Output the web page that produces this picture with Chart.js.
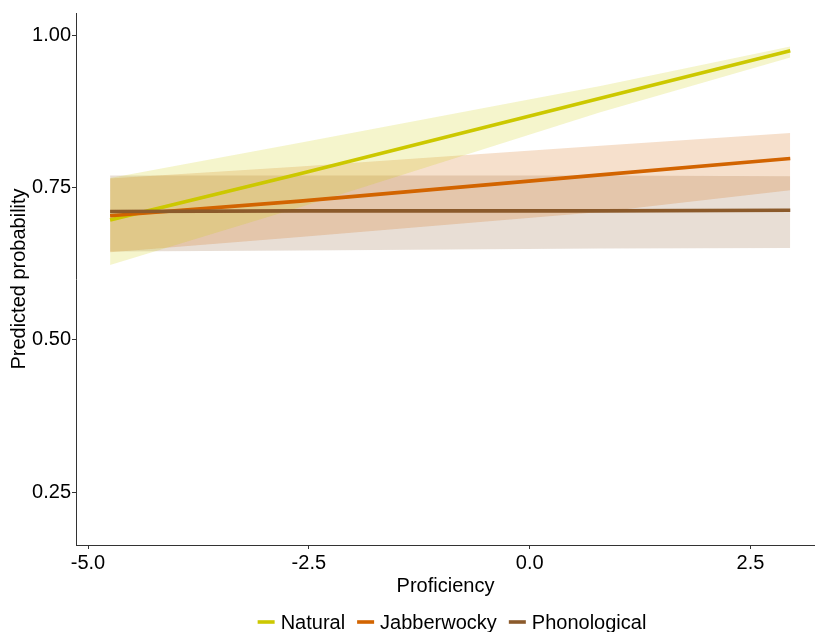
<!DOCTYPE html>
<html>
<head>
<meta charset="utf-8">
<script src="https://cdn.jsdelivr.net/npm/chart.js@4.4.0/dist/chart.umd.min.js"></script>
<style>
  html, body { margin: 0; padding: 0; background: #ffffff; }
  #wrap { width: 815px; height: 632px; }
</style>
</head>
<body>
<div id="wrap"><canvas id="chart" width="815" height="632"></canvas></div>
<script>
// Proficiency values at which the fitted curves and their bands are given
const proficiency = [-4.75, -2.6, 0.8, 2.95];

// Natural
const naturalFit  = [0.697, 0.773, 0.897, 0.975];
const naturalLow  = [0.623, 0.718, 0.874, 0.964];
const naturalHigh = [0.766, 0.824, 0.917, 0.982];

// Jabberwocky
const jabberFit  = [0.704, 0.728, 0.771, 0.798];
const jabberLow  = [0.644, 0.669, 0.710, 0.746];
const jabberHigh = [0.765, 0.785, 0.819, 0.840];

// Phonological
const phonFit  = [0.711, 0.712, 0.712, 0.713];
const phonLow  = [0.645, 0.647, 0.650, 0.651];
const phonHigh = [0.770, 0.770, 0.770, 0.769];

const seriesNames = ['Natural', 'Jabberwocky', 'Phonological'];

const xTicks = [-5.0, -2.5, 0.0, 2.5];
const xTickLabels = ['-5.0', '-2.5', '0.0', '2.5'];
const yTicks = [0.25, 0.50, 0.75, 1.00];
const yTickLabels = ['0.25', '0.50', '0.75', '1.00'];

const lineColors = ['rgb(204,200,0)', 'rgb(210,100,0)', 'rgb(139,90,43)'];
const bandColors = ['rgba(204,204,0,0.2)', 'rgba(210,100,0,0.2)', 'rgba(139,90,43,0.2)'];

const FONT = "'Liberation Sans', Arial, sans-serif";

function toPoints(ys) {
  return proficiency.map((x, i) => ({ x: x, y: ys[i] }));
}

const fits  = [naturalFit, jabberFit, phonFit];
const lows  = [naturalLow, jabberLow, phonLow];
const highs = [naturalHigh, jabberHigh, phonHigh];

const datasets = [];
seriesNames.forEach((name, i) => {
  // confidence band: upper edge filled down to the lower edge (next dataset)
  datasets.push({
    label: name + ' upper',
    data: toPoints(highs[i]),
    fill: '+1',
    backgroundColor: bandColors[i],
    borderWidth: 0,
    pointRadius: 0,
    order: 10
  });
  datasets.push({
    label: name + ' lower',
    data: toPoints(lows[i]),
    fill: false,
    borderWidth: 0,
    pointRadius: 0,
    order: 10
  });
});
seriesNames.forEach((name, i) => {
  datasets.push({
    label: name,
    data: toPoints(fits[i]),
    fill: false,
    borderColor: lineColors[i],
    borderWidth: 3.6,
    pointRadius: 0,
    borderCapStyle: 'butt',
    order: 3 - i
  });
});

// Legend row underneath the axis title
const bottomLegend = {
  id: 'bottomLegend',
  afterDraw(chart) {
    const ctx = chart.ctx;
    ctx.save();
    ctx.font = '20px ' + FONT;
    ctx.textBaseline = 'middle';
    ctx.textAlign = 'left';
    const keyW = 17, keyGap = 6, itemGap = 12;
    const widths = seriesNames.map(n => ctx.measureText(n).width);
    let total = 0;
    widths.forEach((w, i) => { total += keyW + keyGap + w + (i < widths.length - 1 ? itemGap : 0); });
    let x = 452 - total / 2;
    const y = 622;
    seriesNames.forEach((n, i) => {
      ctx.strokeStyle = lineColors[i];
      ctx.lineWidth = 3.6;
      ctx.beginPath();
      ctx.moveTo(x, y);
      ctx.lineTo(x + keyW, y);
      ctx.stroke();
      x += keyW + keyGap;
      ctx.fillStyle = '#000000';
      ctx.fillText(n, x, y + 1);
      x += widths[i] + itemGap;
    });
    ctx.restore();
  }
};

new Chart(document.getElementById('chart'), {
  type: 'line',
  data: { datasets: datasets },
  plugins: [bottomLegend],
  options: {
    responsive: false,
    animation: false,
    devicePixelRatio: 1,
    layout: { padding: { left: 0, right: 0, top: 13, bottom: 32 } },
    plugins: {
      legend: { display: false },
      tooltip: { enabled: false },
      filler: { drawTime: 'beforeDatasetsDraw' }
    },
    scales: {
      x: {
        type: 'linear',
        min: -5.136,
        max: 3.23,
        afterFit(scale) { scale.height = 55; },
        afterBuildTicks(scale) { scale.ticks = xTicks.map(v => ({ value: v })); },
        ticks: {
          autoSkip: false,
          maxRotation: 0,
          padding: 2,
          color: '#000000',
          font: { family: FONT, size: 20 },
          callback(value) {
            const k = xTicks.indexOf(value);
            return k >= 0 ? xTickLabels[k] : '';
          }
        },
        grid: { display: true, drawOnChartArea: false, drawTicks: true, tickLength: 4, color: '#333333' },
        border: { display: true, color: '#333333', width: 1 },
        title: {
          display: true,
          text: 'Proficiency',
          color: '#000000',
          font: { family: FONT, size: 20 },
          padding: { top: 0, bottom: 2 }
        }
      },
      y: {
        type: 'linear',
        min: 0.163,
        max: 1.037,
        afterFit(scale) { scale.width = 76; },
        afterBuildTicks(scale) { scale.ticks = yTicks.map(v => ({ value: v })); },
        ticks: {
          autoSkip: false,
          padding: 1,
          color: '#000000',
          font: { family: FONT, size: 20 },
          callback(value) {
            const k = yTicks.indexOf(value);
            return k >= 0 ? yTickLabels[k] : '';
          }
        },
        grid: { display: true, drawOnChartArea: false, drawTicks: true, tickLength: 4, color: '#333333' },
        border: { display: true, color: '#333333', width: 1 },
        title: {
          display: true,
          text: 'Predicted probability',
          color: '#000000',
          font: { family: FONT, size: 20 },
          padding: { top: 7, bottom: 0 }
        }
      }
    }
  }
});
</script>
</body>
</html>
